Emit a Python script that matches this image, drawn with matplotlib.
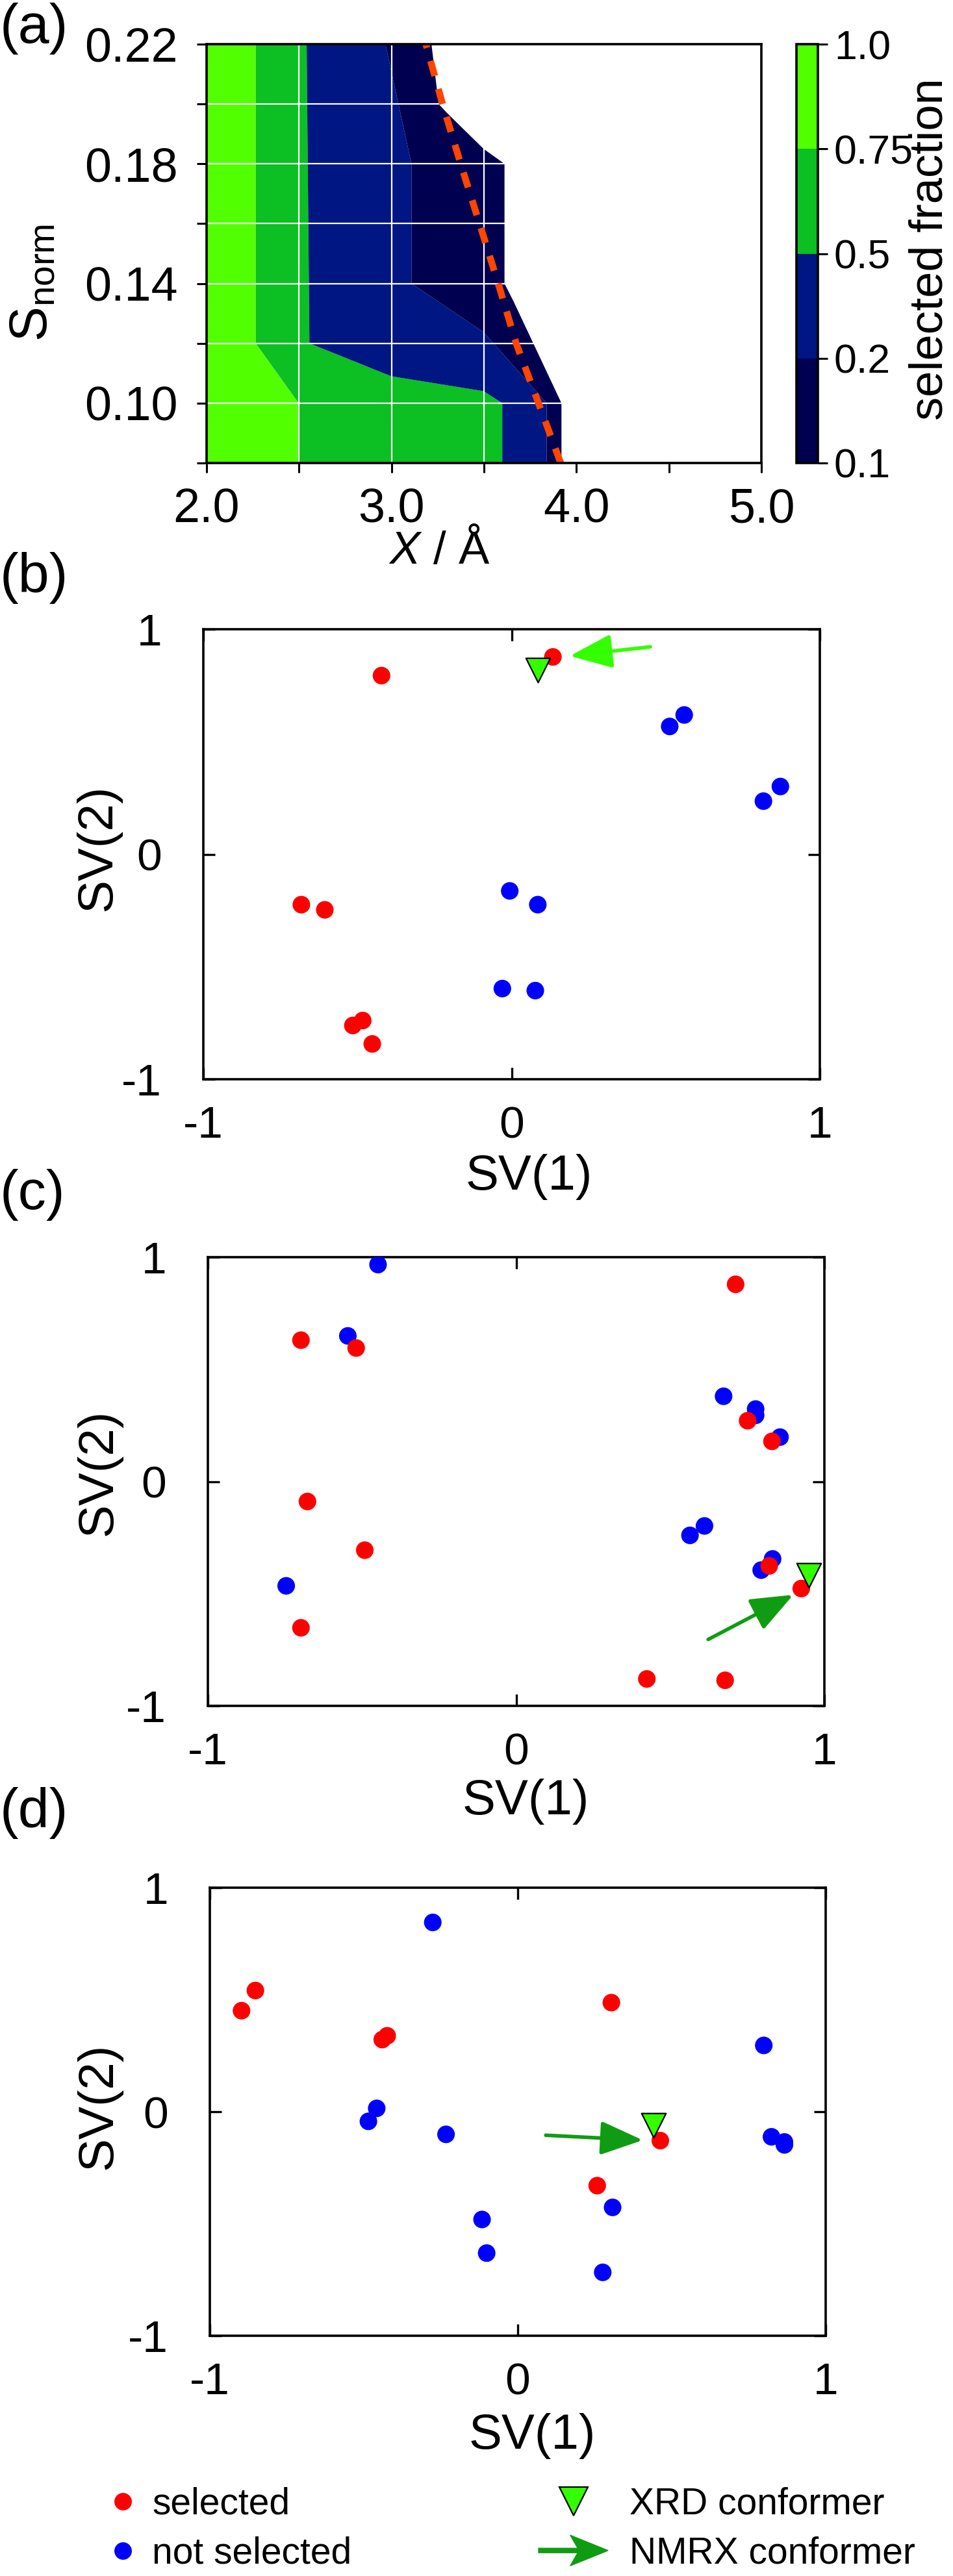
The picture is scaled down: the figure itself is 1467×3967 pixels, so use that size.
import matplotlib
matplotlib.use('Agg')
import matplotlib.pyplot as plt
import matplotlib.patches as mpatches
from matplotlib.colors import ListedColormap, BoundaryNorm
from matplotlib.cm import ScalarMappable
from matplotlib.lines import Line2D
from matplotlib.legend_handler import HandlerPatch

plt.rcParams['font.family'] = ['Liberation Sans', 'DejaVu Sans']
plt.rcParams['mathtext.fontset'] = 'custom'
plt.rcParams['mathtext.rm'] = 'Liberation Sans'
plt.rcParams['mathtext.it'] = 'Liberation Sans:italic'

# ---- (a) selected fraction map: boundaries X(S_norm) of each contour level ----
frac_levels = [0.1, 0.2, 0.5, 0.75, 1.0]
frac_colors = ['#000050', '#001682', '#0cbf22', '#52ff00']
frac_ticklabels = ['0.1', '0.2', '0.5', '0.75', '1.0']

s_start = [0.08, 0.22]
x_start = [2.0, 2.0]
s_b075 = [0.08, 0.10, 0.12, 0.22]
x_b075 = [2.498, 2.498, 2.266, 2.266]
s_b050 = [0.08, 0.10, 0.104, 0.109, 0.12, 0.22]
x_b050 = [3.599, 3.599, 3.498, 2.998, 2.556, 2.541]
s_b020 = [0.08, 0.10, 0.1237, 0.14, 0.18, 0.22]
x_b020 = [3.839, 3.839, 3.498, 3.108, 3.108, 2.967]
s_edge = [0.08, 0.10, 0.134, 0.14, 0.18, 0.185, 0.197, 0.20, 0.22]
x_edge = [3.919, 3.919, 3.66, 3.611, 3.611, 3.498, 3.30, 3.255, 3.216]

s_thresh = [0.08, 0.10, 0.12, 0.14, 0.16, 0.18, 0.20, 0.22]
x_thresh = [3.915, 3.795, 3.674, 3.577, 3.476, 3.374, 3.276, 3.186]

# ---- (b) ----
b_sel_x = [-0.422, 0.134, -0.682, -0.606, -0.483, -0.515, -0.452]
b_sel_y = [0.794, 0.877, -0.224, -0.247, -0.739, -0.761, -0.843]
b_not_x = [0.560, 0.513, 0.872, 0.817, -0.006, 0.085, -0.030, 0.077]
b_not_y = [0.619, 0.568, 0.301, 0.236, -0.163, -0.224, -0.597, -0.606]
b_xrd = (0.085, 0.818)
b_arrow = ((0.450, 0.922), (0.189, 0.881))

# ---- (c) ----
c_sel_x = [0.712, -0.698, -0.519, 0.751, 0.830, -0.677, -0.491, 0.821, 0.925, -0.698, 0.424, 0.678]
c_sel_y = [0.879, 0.630, 0.595, 0.271, 0.179, -0.089, -0.306, -0.376, -0.477, -0.652, -0.880, -0.886]
c_not_x = [-0.448, -0.546, 0.673, 0.777, 0.777, 0.856, 0.611, 0.564, 0.832, 0.795, -0.746]
c_not_y = [0.967, 0.649, 0.380, 0.323, 0.295, 0.198, -0.198, -0.240, -0.345, -0.395, -0.465]
c_xrd = (0.949, -0.417)
c_arrow = ((0.623, -0.704), (0.899, -0.505))

# ---- (d) ----
d_sel_x = [-0.852, -0.897, -0.424, -0.440, 0.304, 0.463, 0.258]
d_sel_y = [0.541, 0.451, 0.339, 0.322, 0.487, -0.129, -0.330]
d_not_x = [-0.276, 0.799, -0.458, -0.485, -0.233, 0.824, 0.866, 0.866, 0.308, -0.116, -0.101, 0.276]
d_not_y = [0.845, 0.296, 0.015, -0.043, -0.101, -0.112, -0.135, -0.148, -0.427, -0.481, -0.631, -0.717]
d_xrd = (0.440, -0.062)
d_arrow = ((0.091, -0.105), (0.406, -0.127))

RED = '#ff0000'
BLUE = '#0000ff'
LIME = '#33ff00'
DKGREEN = '#109c12'

fig = plt.figure(figsize=(14.67, 39.67), dpi=100)
W, H = 1467.0, 3967.0


def rect(l, t, r, b):
    return [l / W, 1 - b / H, (r - l) / W, (b - t) / H]


# ================= panel (a) =================
ax = fig.add_axes(rect(318, 68, 1172, 713))
bounds = [(s_start, x_start), (s_b075, x_b075), (s_b050, x_b050), (s_b020, x_b020), (s_edge, x_edge)]
# region between successive boundaries, lowest level on the right
for i in range(4):
    sl, xl = bounds[i]
    sr, xr = bounds[i + 1]
    xs = list(xl) + list(reversed(xr))
    ys = list(sl) + list(reversed(sr))
    ax.fill(xs, ys, color=frac_colors[3 - i], lw=0, zorder=1)
ax.plot(x_thresh, s_thresh, color='#ff4500', lw=7.5, dashes=(2.3, 2.0),
        dash_capstyle='butt', zorder=4)
ax.set_xlim(2.0, 5.0)
ax.set_ylim(0.08, 0.22)
ax.set_xticks([2.0, 3.0, 4.0, 5.0])
ax.set_xticks([2.5, 3.5, 4.5], minor=True)
ax.set_yticks([0.10, 0.14, 0.18, 0.22])
ax.set_yticks([0.08, 0.12, 0.16, 0.20], minor=True)
ax.set_xticklabels(['2.0', '3.0', '4.0', '5.0'])
ax.set_yticklabels(['0.10', '0.14', '0.18', '0.22'])
ax.tick_params(which='both', direction='out', length=11, width=2.2, labelsize=53)
ax.tick_params(axis='y', which='both', pad=21)
ax.tick_params(axis='x', which='both', pad=16)
ax.set_axisbelow(False)
ax.grid(True, which='both', color='white', lw=1.6, zorder=2.5)
for sp in ax.spines.values():
    sp.set_linewidth(2.6)
    sp.set_zorder(5)
ax.set_xlabel(r'$X$ / Å', fontsize=51)
ax.xaxis.set_label_coords(0.42, -0.16)
ax.set_ylabel(r'S$_{\mathregular{norm}}$', fontsize=58)
ax.yaxis.set_label_coords(-0.268, 0.43)

cax = fig.add_axes(rect(1226, 68, 1259, 713))
sm = ScalarMappable(norm=BoundaryNorm(frac_levels, 4), cmap=ListedColormap(frac_colors))
cb = fig.colorbar(sm, cax=cax, spacing='uniform', ticks=frac_levels)
cb.ax.set_yticklabels(frac_ticklabels)
cb.ax.tick_params(direction='out', length=11, width=2.2, labelsize=45, pad=7)
cb.outline.set_linewidth(2.6)
fig.text(0.999, 1 - 384 / H, 'selected fraction', rotation=90, ha='right', va='center',
         fontsize=52)


# ================= scatter panels =================
def sv_panel(box, sel_x, sel_y, not_x, not_y, xrd, arrow, arrow_color, xl, yl):
    a = fig.add_axes(rect(*box))
    a.scatter(not_x, not_y, s=380, c=BLUE, edgecolors='none', zorder=3)
    a.scatter(sel_x, sel_y, s=380, c=RED, edgecolors='none', zorder=4)
    a.scatter([xrd[0]], [xrd[1]], s=27 ** 2, marker='v', c=LIME, edgecolors='black',
              linewidths=1.6, zorder=5)
    a.annotate('', xy=arrow[1], xytext=arrow[0],
               arrowprops=dict(arrowstyle='-|>,head_length=2.0,head_width=0.8',
                               mutation_scale=20, lw=4, color=arrow_color,
                               shrinkA=0, shrinkB=0), zorder=6)
    a.set_xlim(-1, 1)
    a.set_ylim(-1, 1)
    a.set_xticks([-1, 0, 1])
    a.set_yticks([-1, 0, 1])
    a.set_xticklabels(['-1', '0', '1'])
    a.set_yticklabels(['-1', '0', '1'])
    a.tick_params(direction='in', top=True, right=True, length=13, width=2.4, labelsize=50)
    a.tick_params(axis='y', pad=46)
    a.tick_params(axis='x', pad=29)
    for sp in a.spines.values():
        sp.set_linewidth(2.6)
    a.set_xlabel('SV(1)', fontsize=55)
    a.xaxis.set_label_coords(xl[0], xl[1])
    a.set_ylabel('SV(2)', fontsize=55)
    a.yaxis.set_label_coords(yl[0], yl[1])
    return a


sv_panel((313, 969, 1262, 1662), b_sel_x, b_sel_y, b_not_x, b_not_y, b_xrd, b_arrow, LIME,
         (0.528, -0.166), (-0.133, 0.515))
sv_panel((320, 1936, 1269, 2627), c_sel_x, c_sel_y, c_not_x, c_not_y, c_xrd, c_arrow, DKGREEN,
         (0.516, -0.162), (-0.14, 0.52))
sv_panel((323, 2907, 1271, 3597), d_sel_x, d_sel_y, d_not_x, d_not_y, d_xrd, d_arrow, DKGREEN,
         (0.523, -0.172), (-0.143, 0.512))

for lab, yc in [('(a)', 44), ('(b)', 890), ('(c)', 1840), ('(d)', 2792)]:
    fig.text(0.0, 1 - yc / H, lab, ha='left', va='center', fontsize=62)


# ================= legends =================
def make_arrow(legend, orig_handle, xdescent, ydescent, width, height, fontsize):
    return mpatches.FancyArrow(-xdescent, height / 2 - ydescent, width, 0, width=5,
                               head_width=34, head_length=42, length_includes_head=True,
                               overhang=0.2)


leg_prop = {'size': 41}
h_sel = Line2D([], [], ls='none', marker='o', ms=19.4, mfc=RED, mec='none')
h_not = Line2D([], [], ls='none', marker='o', ms=19.4, mfc=BLUE, mec='none')
fig.legend([h_sel, h_not], ['selected', 'not selected'], loc='upper left',
           bbox_to_anchor=(175 / W, 1 - 3830 / H), frameon=False, prop=leg_prop,
           handlelength=0.5, handletextpad=0.54, labelspacing=0.38,
           borderpad=0, borderaxespad=0)
h_xrd = Line2D([], [], ls='none', marker='v', ms=31, mfc=LIME, mec='black', mew=1.6)
h_nmrx = mpatches.FancyArrow(0, 0, 1, 0, color=DKGREEN)
fig.legend([h_xrd, h_nmrx], ['XRD conformer', 'NMRX conformer'], loc='upper left',
           bbox_to_anchor=(829 / W, 1 - 3830 / H), frameon=False, prop=leg_prop,
           handlelength=1.88, handletextpad=0.58, labelspacing=0.38,
           borderpad=0, borderaxespad=0,
           handler_map={mpatches.FancyArrow: HandlerPatch(patch_func=make_arrow)})

fig.savefig('out.png', dpi=100)
